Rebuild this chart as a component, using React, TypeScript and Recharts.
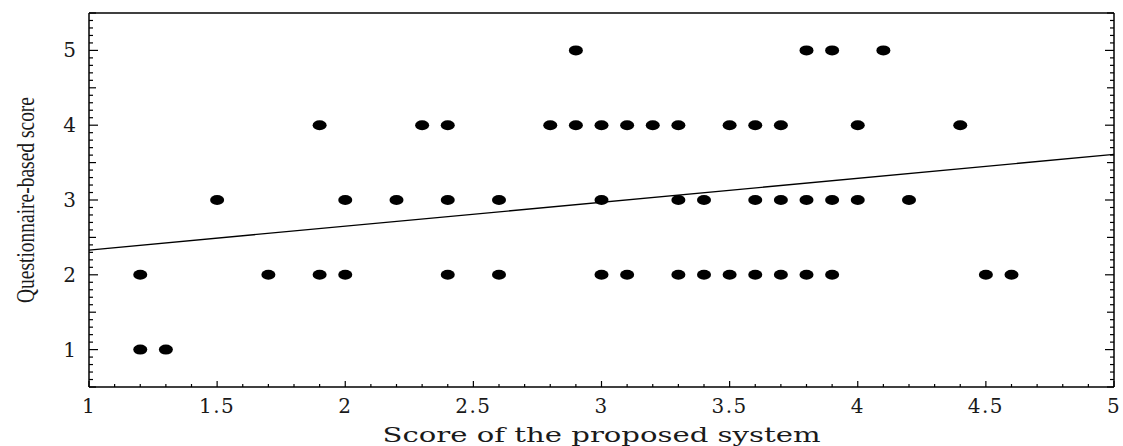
import React from "react";
import { ScatterChart, Scatter, XAxis, YAxis, ReferenceLine } from "recharts";

// Score of the proposed system (x) and questionnaire-based score (y), one entry per subject
const systemScore = [
  2.9, 3.8, 3.9, 4.1,
  1.9, 2.3, 2.4, 2.8, 2.9, 3.0, 3.1, 3.2, 3.3, 3.5, 3.6, 3.7, 4.0, 4.4,
  1.5, 2.0, 2.2, 2.4, 2.6, 3.0, 3.3, 3.4, 3.6, 3.7, 3.8, 3.9, 4.0, 4.2,
  1.2, 1.7, 1.9, 2.0, 2.4, 2.6, 3.0, 3.1, 3.3, 3.4, 3.5, 3.6, 3.7, 3.8, 3.9, 4.5, 4.6,
  1.2, 1.3,
];
const questionnaireScore = [
  5, 5, 5, 5,
  4, 4, 4, 4, 4, 4, 4, 4, 4, 4, 4, 4, 4, 4,
  3, 3, 3, 3, 3, 3, 3, 3, 3, 3, 3, 3, 3, 3,
  2, 2, 2, 2, 2, 2, 2, 2, 2, 2, 2, 2, 2, 2, 2, 2, 2,
  1, 1,
];

// fitted regression line end points
const fitX = [1, 5];
const fitY = [2.33, 3.61];

const xDomain = [1, 5];
const yDomain = [0.5, 5.5];

// ticks every 0.1 (minor), labels every 0.5 on x and every 1 on y
const xTicks = Array.from({ length: 41 }, (_, i) => (10 + i) / 10);
const yTicks = Array.from({ length: 51 }, (_, i) => (5 + i) / 10);

const points = systemScore.map((x, i) => ({ x, y: questionnaireScore[i] }));
const fitSegment = fitX.map((x, i) => ({ x, y: fitY[i] }));

const isStep = (v: number, step: number) => Math.abs(v / step - Math.round(v / step)) < 1e-6;

const tickFont = { fontFamily: "DejaVu Serif", fontSize: 20, fill: "#1a1a1a" };

const BottomTick = (props: any) => {
  const { x, y, payload } = props;
  const v = payload.value;
  const major = isStep(v, 0.5);
  return (
    <g>
      <line x1={x} x2={x} y1={y} y2={y - (major ? 6 : 3)} stroke="#000" strokeWidth={1.2} />
      {major && (
        <text x={x} y={y + 26} textAnchor="middle" letterSpacing={1.5} {...tickFont}>
          {String(v)}
        </text>
      )}
    </g>
  );
};

const TopTick = (props: any) => {
  const { x, y, payload } = props;
  const major = isStep(payload.value, 0.5);
  return <line x1={x} x2={x} y1={y} y2={y + (major ? 6 : 3)} stroke="#000" strokeWidth={1.2} />;
};

const yLen = (v: number) => (isStep(v, 1) ? 9 : isStep(v, 0.5) ? 7 : 4);

const LeftTick = (props: any) => {
  const { x, y, payload } = props;
  const v = payload.value;
  return (
    <g>
      <line x1={x} x2={x + yLen(v)} y1={y} y2={y} stroke="#000" strokeWidth={1.2} />
      {isStep(v, 1) && (
        <text x={x - 13} y={y + 7} textAnchor="end" {...tickFont}>
          {String(v)}
        </text>
      )}
    </g>
  );
};

const RightTick = (props: any) => {
  const { x, y, payload } = props;
  return <line x1={x} x2={x - yLen(payload.value)} y1={y} y2={y} stroke="#000" strokeWidth={1.2} />;
};

const Dot = (props: any) => <ellipse cx={props.cx} cy={props.cy} rx={7} ry={5} fill="#000" />;

const XLabel = (props: any) => {
  const vb = props.viewBox;
  return (
    <text
      x={vb.x + vb.width / 2}
      y={vb.y + 55}
      textAnchor="middle"
      fontFamily="DejaVu Serif"
      fontSize={20}
      fill="#1a1a1a"
      textLength={438}
      lengthAdjust="spacingAndGlyphs"
    >
      Score of the proposed system
    </text>
  );
};

const YLabel = (props: any) => {
  const vb = props.viewBox;
  const cx = vb.x + 25;
  const cy = vb.y + vb.height / 2;
  return (
    <text
      x={cx}
      y={cy}
      transform={`rotate(-90, ${cx}, ${cy})`}
      textAnchor="middle"
      dominantBaseline="central"
      fontFamily="Liberation Serif"
      fontSize={25}
      fill="#1a1a1a"
      textLength={206}
      lengthAdjust="spacingAndGlyphs"
    >
      Questionnaire-based score
    </text>
  );
};

export default function App() {
  const axisLine = { stroke: "#000", strokeWidth: 1.5 };
  return (
    <div style={{ position: "absolute", left: 0, top: 0, background: "#fff" }}>
      <ScatterChart width={1123} height={446} margin={{ top: 12, right: 8, bottom: 0, left: 0 }}>
        <XAxis
          type="number"
          dataKey="x"
          domain={xDomain}
          ticks={xTicks}
          interval={0}
          allowDataOverflow
          height={59}
          tickSize={0}
          tickMargin={0}
          tickLine={false}
          axisLine={axisLine}
          tick={<BottomTick />}
          label={<XLabel />}
        />
        <XAxis
          xAxisId="top"
          orientation="top"
          type="number"
          domain={xDomain}
          ticks={xTicks}
          interval={0}
          allowDataOverflow
          height={1}
          tickSize={0}
          tickMargin={0}
          tickLine={false}
          axisLine={axisLine}
          tick={<TopTick />}
        />
        <YAxis
          type="number"
          dataKey="y"
          domain={yDomain}
          ticks={yTicks}
          interval={0}
          allowDataOverflow
          width={89}
          tickSize={0}
          tickMargin={0}
          tickLine={false}
          axisLine={axisLine}
          tick={<LeftTick />}
          label={<YLabel />}
        />
        <YAxis
          yAxisId="right"
          orientation="right"
          type="number"
          domain={yDomain}
          ticks={yTicks}
          interval={0}
          allowDataOverflow
          width={1}
          tickSize={0}
          tickMargin={0}
          tickLine={false}
          axisLine={axisLine}
          tick={<RightTick />}
        />
        <ReferenceLine segment={fitSegment} stroke="#000" strokeWidth={1.3} />
        <Scatter data={points} shape={<Dot />} isAnimationActive={false} />
      </ScatterChart>
    </div>
  );
}
